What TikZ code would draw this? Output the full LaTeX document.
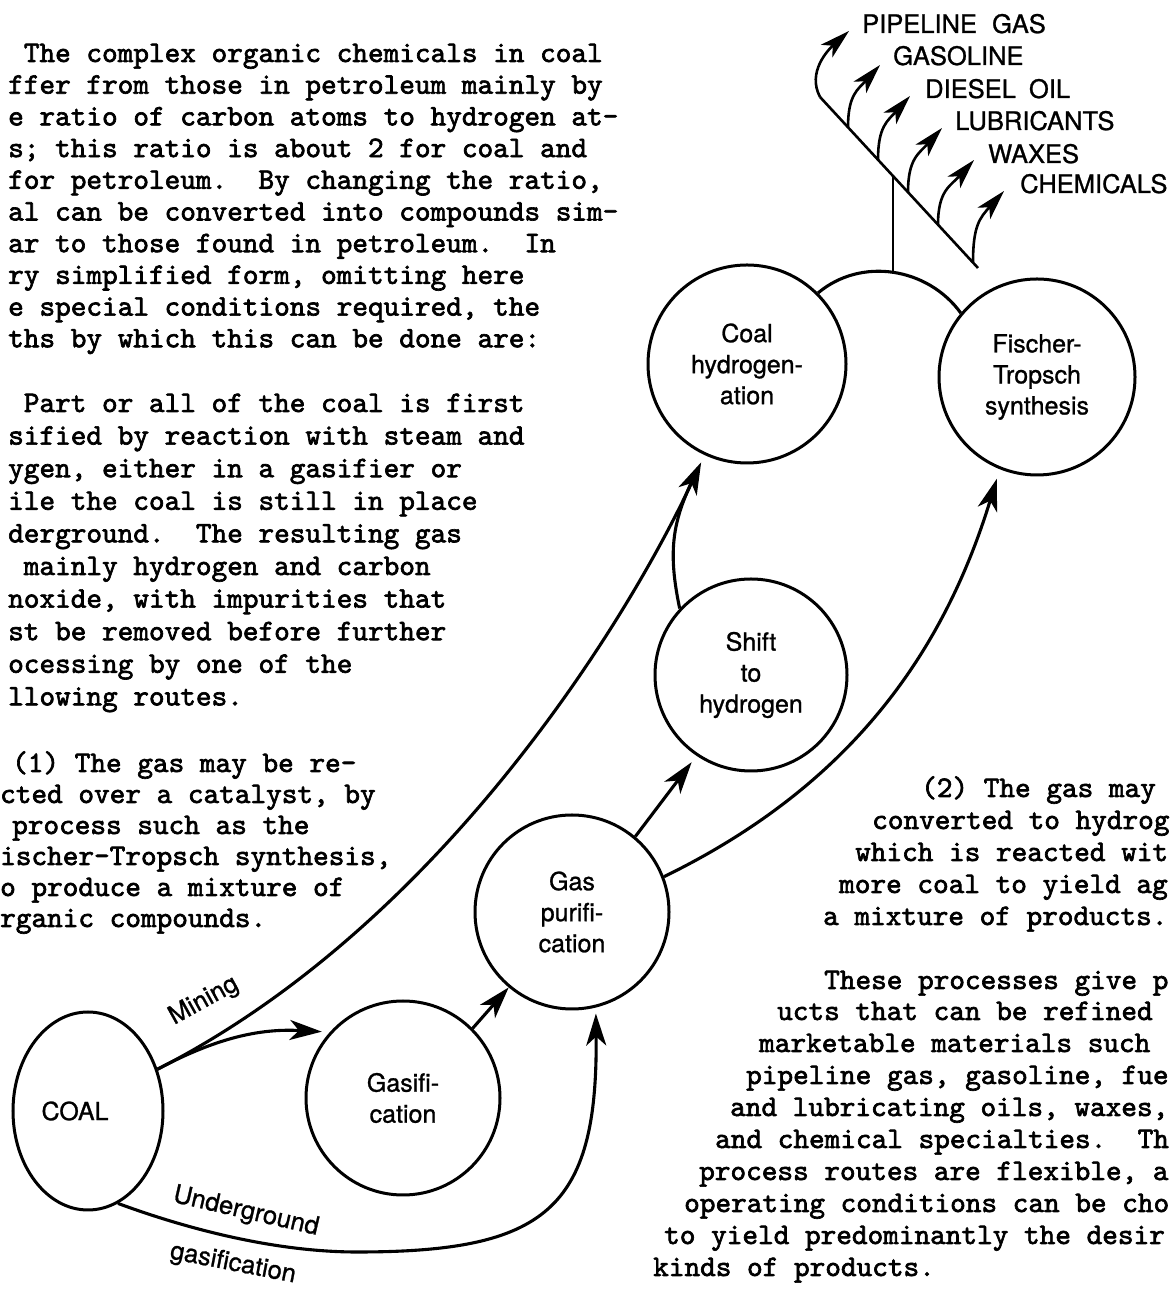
\documentclass[tikz,border=0pt]{standalone}
\usepackage{fontspec}
\usetikzlibrary{arrows.meta,shapes.geometric}
\newfontfamily\twfont{lmmono10-regular.otf}[FakeBold=2.2]
\newfontfamily\labfont{TeX Gyre Heros}[FakeBold=1]
\begin{document}
\begin{tikzpicture}[x=1pt,y=1pt,
  proc/.style={circle,draw,line width=3pt,inner sep=0pt,align=center,font=\labfont\fontsize{25}{31}\selectfont},
  conn/.style={line width=3.1pt},
  bigtip/.style={-{Stealth[length=32pt,width=20pt,inset=9pt]}},
  prodline/.style={line width=2.6pt},
  prodarr/.style={line width=2.6pt,-{Stealth[length=30pt,width=17pt,inset=8pt]}},
  body/.style={anchor=base west,inner sep=0pt,font=\twfont\fontsize{29.8}{32}\selectfont\frenchspacing},
  prod/.style={anchor=base west,inner sep=0pt,font=\labfont\fontsize{25.5}{28}\selectfont},
  curvlab/.style={inner sep=0pt,font=\labfont\fontsize{25.5}{28}\selectfont}]
\useasboundingbox (0,0) rectangle (1172,1290);
\fill[white] (0,0) rectangle (1172,1290);
\clip (0,0) rectangle (1172,1290);

% ---------- left column text ----------
\node[body] (l1) at (23.65,1228) {The complex organic chemicals in coal};
\node[body] (l2) at (8,1196.3) {ffer from those in petroleum mainly by};
\node[body] (l3) at (8,1164.6) {e ratio of carbon atoms to hydrogen at-};
\node[body] (l4) at (8,1132.9) {s; this ratio is about 2 for coal and};
\node[body] (l5) at (8,1101.2) {for petroleum.~~By changing the ratio,};
\node[body] (l6) at (8,1069.5) {al can be converted into compounds sim-};
\node[body] (l7) at (8,1037.8) {ar to those found in petroleum.~~In};
\node[body] (l8) at (8,1006.1) {ry simplified form, omitting here};
\node[body] (l9) at (8,974.4) {e special conditions required, the};
\node[body] (l10) at (8,942.7) {ths by which this can be done are:};

\node[body] (m1) at (23.65,878) {Part or all of the coal is first};
\node[body] (m2) at (8,845.4) {sified by reaction with steam and};
\node[body] (m3) at (8,812.8) {ygen, either in a gasifier or};
\node[body] (m4) at (8,780.2) {ile the coal is still in place};
\node[body] (m5) at (8,747.6) {derground.~~The resulting gas};
\node[body] (m6) at (23.65,715) {mainly hydrogen and carbon};
\node[body] (m7) at (8,682.4) {noxide, with impurities that};
\node[body] (m8) at (8,649.8) {st be removed before further};
\node[body] (m9) at (8,617.2) {ocessing by one of the};
\node[body] (m10) at (8,584.6) {llowing routes.};

\node[body] (n1) at (12,518) {(1) The gas may be re-};
\node[body] (n2) at (0,487) {cted over a catalyst, by};
\node[body] (n3) at (12,456) {process such as the};
\node[body] (n4) at (0,425) {ischer-Tropsch synthesis,};
\node[body] (n5) at (0,394) {o produce a mixture of};
\node[body] (n6) at (0,363) {rganic compounds.};

% ---------- right column text ----------
\node[body] (r1) at (921,493) {(2) The gas may};
\node[body] (r2) at (872,461) {converted to hydrog};
\node[body] (r3) at (855,429) {which is reacted wit};
\node[body] (r4) at (839,397) {more coal to yield ag};
\node[body] (r5) at (823,365) {a mixture of products.};
\node[body] (r6) at (824,301) {These processes give p};
\node[body] (r7) at (777,270) {ucts that can be refined};
\node[body] (r8) at (759,238) {marketable materials such};
\node[body] (r9) at (746,206) {pipeline gas, gasoline, fue};
\node[body] (r10) at (730,174) {and lubricating oils, waxes,};
\node[body] (r11) at (715,142) {and chemical specialties.~~Th};
\node[body] (r12) at (699,110) {process routes are flexible, a};
\node[body] (r13) at (684,78) {operating conditions can be cho};
\node[body] (r14) at (664,46) {to yield predominantly the desir};
\node[body] (r15) at (653,14) {kinds of products.};

% ---------- process nodes ----------
\node[proc,ellipse,minimum width=150pt,minimum height=198pt] (coal) at (88,179) {\hspace*{-26pt}COAL};
\node[proc,minimum size=194pt] (gasif) at (403,192) {Gasifi-\\cation};
\node[proc,minimum size=194pt] (gaspur) at (572,378) {Gas\\purifi-\\cation};
\node[proc,minimum size=192pt] (shift) at (751,615) {Shift\\to\\hydrogen};
\node[proc,minimum size=198pt] (chyd) at (747,926) {Coal\\hydrogen-\\ation};
\node[proc,minimum size=196pt] (ft) at (1037,913) {Fischer-\\Tropsch\\synthesis};

% ---------- connectors ----------
\draw[conn,bigtip,shorten >=8pt] (coal.31) to[out=28,in=177] (gasif.138);
\draw[conn,bigtip,shorten >=8pt] (coal.31) .. controls +(27:320) and +(245:180) .. (chyd.245);
\draw[conn,shorten >=14pt] (shift.137) to[out=102,in=244,looseness=1.1] (chyd.245);
\draw[conn,bigtip,shorten >=6pt] (coal.-72) .. controls (190,60) and (277,38) .. (357,38)
      .. controls (545,38) and (598,80) .. (gaspur.-76);
\draw[conn,bigtip] (gasif.45) -- (gaspur.230);
\draw[conn,bigtip,shorten >=8pt] (gaspur.50) -- (shift.236);
\draw[conn,bigtip,shorten >=10pt] (gaspur.21) .. controls +(26:200) and +(253:200) .. (ft.248);
\draw[conn] (chyd.45) to[out=40,in=126] (ft.140);

% ---------- labels on connectors ----------
\node[curvlab,rotate=29] (mining) at (204,289) {Mining};
\node[curvlab,rotate=-13] (underg) at (246,78) {Underground};
\node[curvlab,rotate=-11] (gasfl) at (233,26) {gasification};

% ---------- product tree ----------
\coordinate (apex) at (893,1017);
\coordinate (dj) at (893,1114);
\coordinate (dtop) at (820,1193);
\coordinate (dbot) at (978,1022);
\coordinate (b2) at (848,1162.7);
\coordinate (b3) at (878,1130.2);
\coordinate (b4) at (908,1097.8);
\coordinate (b5) at (938,1065.3);
\coordinate (b6) at (973,1027.4);
\coordinate (t1) at (849,1259);
\coordinate (t2) at (880,1225);
\coordinate (t3) at (910,1194);
\coordinate (t4) at (942,1162);
\coordinate (t5) at (974,1130);
\coordinate (t6) at (1004,1099);
\draw[prodline] (apex) -- (dj);
\draw[prodline] (dtop) -- (dbot);
\draw[prodarr] (dtop) to[out=118,in=222] (t1);
\draw[prodarr] (b2) to[out=90,in=228,looseness=1.2] (t2);
\draw[prodarr] (b3) to[out=90,in=228,looseness=1.2] (t3);
\draw[prodarr] (b4) to[out=90,in=228,looseness=1.2] (t4);
\draw[prodarr] (b5) to[out=90,in=228,looseness=1.2] (t5);
\draw[prodarr] (b6) to[out=90,in=228,looseness=1.2] (t6);

\node[prod] (p1) at (862,1257) {PIPELINE\hspace{8pt} GAS};
\node[prod] (p2) at (893,1225) {GASOLINE};
\node[prod] (p3) at (925,1192) {DIESEL\hspace{6pt} OIL};
\node[prod] (p4) at (955,1160) {LUBRICANTS};
\node[prod] (p5) at (988,1127) {WAXES};
\node[prod] (p6) at (1020,1097) {CHEMICALS};
\end{tikzpicture}
\end{document}
